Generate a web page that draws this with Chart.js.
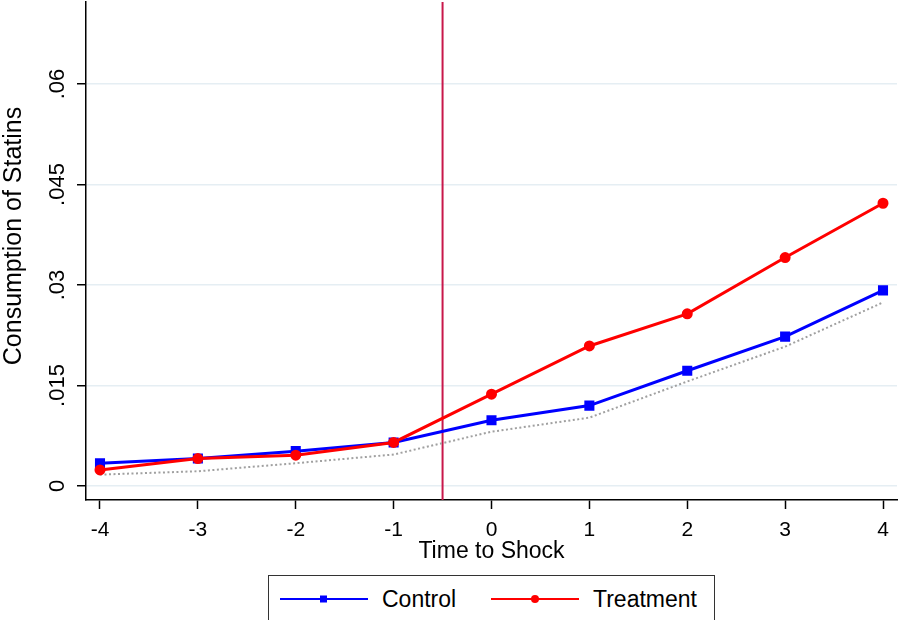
<!DOCTYPE html>
<html>
<head>
<meta charset="utf-8">
<script src="https://cdn.jsdelivr.net/npm/chart.js@4.4.1/dist/chart.umd.min.js"></script>
<style>
  body { margin: 0; background: #fff; }
  #wrap { position: relative; width: 899px; height: 620px; overflow: hidden; font-family: "Liberation Sans", Arial, sans-serif; }
  #legend { position: absolute; left: 268px; top: 575px; width: 445px; height: 60px; border: 1.5px solid #333; background: #fff; }
  .item { position: absolute; top: 9px; font-size: 23px; line-height: 28px; color: #000; display: flex; align-items: center; }
  .item svg { margin-right: 14px; }
</style>
</head>
<body>
<div id="wrap">
  <canvas id="chart"></canvas>
  <div id="legend">
    <div class="item" style="left: 11px;">
      <svg width="88" height="12"><line x1="0" y1="6" x2="88" y2="6" stroke="#0000ff" stroke-width="2"/><rect x="40" y="2.5" width="7" height="7" fill="#0000ff"/></svg>Control
    </div>
    <div class="item" style="left: 222px;">
      <svg width="88" height="12"><line x1="0" y1="6" x2="88" y2="6" stroke="#ff0000" stroke-width="2"/><circle cx="44" cy="6" r="4" fill="#ff0000"/></svg>Treatment
    </div>
  </div>
</div>
<script>
// data
const periods = [-4, -3, -2, -1, 0, 1, 2, 3, 4];
const control = [0.0034, 0.0041, 0.0052, 0.0065, 0.0098, 0.0120, 0.0172, 0.0223, 0.0292];
const treatment = [0.0024, 0.0041, 0.0046, 0.0065, 0.0137, 0.0209, 0.0257, 0.0341, 0.0422];
const counterfactual = [0.0017, 0.0022, 0.0034, 0.0047, 0.0081, 0.0102, 0.0156, 0.0208, 0.0274];
const xTicks = [-4, -3, -2, -1, 0, 1, 2, 3, 4];
const yTicks = [0, 0.015, 0.03, 0.045, 0.06];
const yTickLabels = ['0', '.015', '.03', '.045', '.06'];
const shockTime = -0.5;

const FONT = '"Liberation Sans", Arial, sans-serif';

const toPoints = vals => periods.map((p, i) => ({ x: p, y: vals[i] }));

// vertical shock line, y tick labels and y title drawn Stata style
const stataBits = {
  id: 'stataBits',
  beforeDatasetsDraw(chart) {
    const { ctx, chartArea, scales: { x } } = chart;
    const px = x.getPixelForValue(shockTime);
    ctx.save();
    ctx.strokeStyle = '#c8174a';
    ctx.lineWidth = 2;
    ctx.beginPath();
    ctx.moveTo(px, chartArea.top);
    ctx.lineTo(px, chartArea.bottom);
    ctx.stroke();
    ctx.restore();
  },
  afterDraw(chart) {
    const { ctx, chartArea, scales: { y } } = chart;
    ctx.save();
    ctx.fillStyle = '#000';
    ctx.textAlign = 'center';
    ctx.textBaseline = 'middle';
    ctx.font = '22px ' + FONT;
    yTicks.forEach((v, i) => {
      ctx.save();
      ctx.translate(chartArea.left - 28, y.getPixelForValue(v));
      ctx.rotate(-Math.PI / 2);
      ctx.fillText(yTickLabels[i], 0, 0);
      ctx.restore();
    });
    ctx.font = '25px ' + FONT;
    ctx.translate(14, (chartArea.top + chartArea.bottom) / 2 - 15);
    ctx.rotate(-Math.PI / 2);
    ctx.fillText('Consumption of Statins', 0, 0);
    ctx.restore();
  }
};

new Chart(document.getElementById('chart').getContext('2d'), {
  type: 'line',
  data: {
    datasets: [{
      label: 'Treatment',
      data: toPoints(treatment),
      borderColor: '#ff0000',
      backgroundColor: '#ff0000',
      borderWidth: 3,
      pointStyle: 'circle',
      pointRadius: 4,
      order: 1
    }, {
      label: 'Control',
      data: toPoints(control),
      borderColor: '#0000ff',
      backgroundColor: '#0000ff',
      borderWidth: 3,
      pointStyle: 'rect',
      pointRadius: 5,
      order: 2
    }, {
      label: 'Counterfactual',
      data: toPoints(counterfactual),
      borderColor: '#a0a0a0',
      borderWidth: 2,
      borderDash: [2, 2.5],
      pointRadius: 0,
      order: 3
    }]
  },
  options: {
    responsive: true,
    maintainAspectRatio: false,
    animation: false,
    layout: { autoPadding: false, padding: { top: 2, right: 2, bottom: 57, left: 0 } },
    plugins: {
      legend: { display: false },
      tooltip: { enabled: false }
    },
    scales: {
      x: {
        type: 'linear',
        min: -4.143,
        max: 4.143,
        afterBuildTicks: s => { s.ticks = xTicks.map(v => ({ value: v })); },
        afterFit: s => { s.height = 63; s.paddingLeft = 0; s.paddingRight = 0; },
        grid: { drawOnChartArea: false, drawTicks: true, tickLength: 9, tickColor: '#000', tickWidth: 1.5 },
        border: { display: true, color: '#000', width: 1.5 },
        ticks: { color: '#000', padding: 10.5, maxRotation: 0, font: { family: FONT, size: 21, lineHeight: 1 } },
        title: { display: true, text: 'Time to Shock', color: '#000', padding: 0, font: { family: FONT, size: 23, lineHeight: 1 } }
      },
      y: {
        type: 'linear',
        min: -0.00209,
        max: 0.07224,
        afterBuildTicks: s => { s.ticks = yTicks.map(v => ({ value: v })); },
        afterFit: s => { s.width = 86; },
        grid: { color: '#e5eef3', lineWidth: 1.5, drawTicks: true, tickLength: 9, tickColor: '#000', tickWidth: 1.5 },
        border: { display: true, color: '#000', width: 1.5 },
        ticks: { display: false },
        title: { display: false }
      }
    }
  },
  plugins: [stataBits]
});
</script>
</body>
</html>
